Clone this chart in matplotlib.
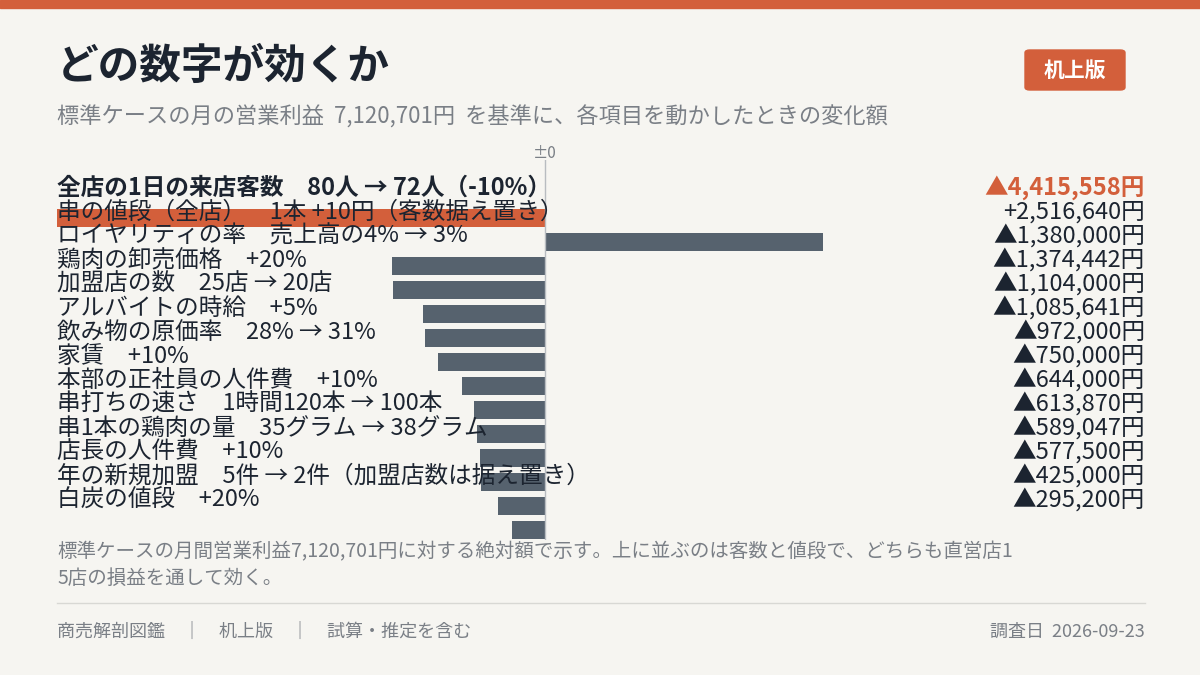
import matplotlib
matplotlib.use("Agg")
import matplotlib.pyplot as plt
from matplotlib.patches import Rectangle, FancyBboxPatch
from matplotlib import font_manager

plt.rcParams['font.family'] = ['Noto Sans CJK JP', 'DejaVu Sans']
names = {f.name for f in font_manager.fontManager.ttflist}
MONO = ['Noto Sans Mono CJK JP', 'Noto Sans CJK JP', 'DejaVu Sans'] if 'Noto Sans Mono CJK JP' in names \
    else ['Noto Sans CJK JP', 'DejaVu Sans']
mono_avail = 'Noto Sans Mono CJK JP' in names

labels = ["全店の1日の来店客数　80人 → 72人（-10%）",
          "串の値段（全店）　1本 +10円（客数据え置き）",
          "ロイヤリティの率　売上高の4% → 3%",
          "鶏肉の卸売価格　+20%",
          "加盟店の数　25店 → 20店",
          "アルバイトの時給　+5%",
          "飲み物の原価率　28% → 31%",
          "家賃　+10%",
          "本部の正社員の人件費　+10%",
          "串打ちの速さ　1時間120本 → 100本",
          "串1本の鶏肉の量　35グラム → 38グラム",
          "店長の人件費　+10%",
          "年の新規加盟　5件 → 2件（加盟店数は据え置き）",
          "白炭の値段　+20%"]
values = [-4415558, 2516640, -1380000, -1374442, -1104000, -1085641, -972000,
          -750000, -644000, -613870, -589047, -577500, -425000, -295200]

BG = "#f6f5f1"; ORANGE = "#d35f3b"; GREY = "#56626e"; DARK = "#1c2430"; MUTED = "#7a7f86"
W, H = 1200, 675
fig = plt.figure(figsize=(12, 6.75), dpi=100, facecolor=BG)

def fy(p): return 1 - p / H
def fx(p): return p / W

LS = 15.5 if mono_avail else 17
fig.add_artist(Rectangle((0, fy(8)), 1, 8 / H, transform=fig.transFigure, color=ORANGE))
fig.text(fx(57), fy(67), "どの数字が効くか", fontsize=30, fontweight='bold', color=DARK, va='center')
fig.text(fx(57), fy(117), "標準ケースの月の営業利益  7,120,701円  を基準に、各項目を動かしたときの変化額",
         fontsize=16, color=MUTED, va='center', family=MONO)
fig.add_artist(FancyBboxPatch((fx(1025), fy(90)), fx(100), 40 / H, boxstyle="round,pad=0,rounding_size=0.004",
                              transform=fig.transFigure, color=ORANGE))
fig.text(fx(1075), fy(70), "机上版", fontsize=15, fontweight='bold', color='white', ha='center', va='center')

scale = 4415558 / 488.0
left = -4415558
right = left + 1088 * scale
ax = fig.add_axes([fx(57), fy(540), fx(1088), 380 / H])
ax.set_facecolor(BG)
ax.set_xlim(left, right)
r0, rs = 218, 24
ax.set_ylim((540 - r0) / rs, (160 - r0) / rs)
ax.axis('off')
ax.axvline(0, color="#b8bcc0", lw=1)
for i, v in enumerate(values):
    ax.barh(i, v, height=0.75, color=ORANGE if i == 0 else GREY)
off = 1.25
for i, (lab, v) in enumerate(zip(labels, values)):
    y = i - off
    bold = 'bold' if i == 0 else 'normal'
    ax.text(left, y, lab, fontsize=LS, color=DARK, fontweight=bold, va='center', ha='left', family=MONO)
    s = ("+" if v > 0 else "▲") + f"{abs(v):,}円"
    ax.text(right, y, s, fontsize=LS, color=ORANGE if i == 0 else DARK, fontweight=bold,
            va='center', ha='right', family=MONO)
fig.text(fx(545), fy(153), "±0", fontsize=11, color=MUTED, ha='center', va='center', family=MONO)

fig.text(fx(57), fy(552), "標準ケースの月間営業利益7,120,701円に対する絶対額で示す。上に並ぶのは客数と値段で、どちらも直営店1",
         fontsize=14, color=MUTED, va='center', family=MONO)
fig.text(fx(57), fy(578), "5店の損益を通して効く。", fontsize=14, color=MUTED, va='center', family=MONO)
fig.add_artist(plt.Line2D([fx(57), fx(1145)], [fy(603), fy(603)], transform=fig.transFigure, color="#d8d8d4", lw=1))
fig.text(fx(57), fy(632), "商売解剖図鑑　｜　机上版　｜　試算・推定を含む", fontsize=13, color=MUTED, va='center', family=MONO)
fig.text(fx(1145), fy(632), "調査日  2026-09-23", fontsize=13, color=MUTED, va='center', ha='right', family=MONO)

fig.savefig("out.png", dpi=100, facecolor=BG)
